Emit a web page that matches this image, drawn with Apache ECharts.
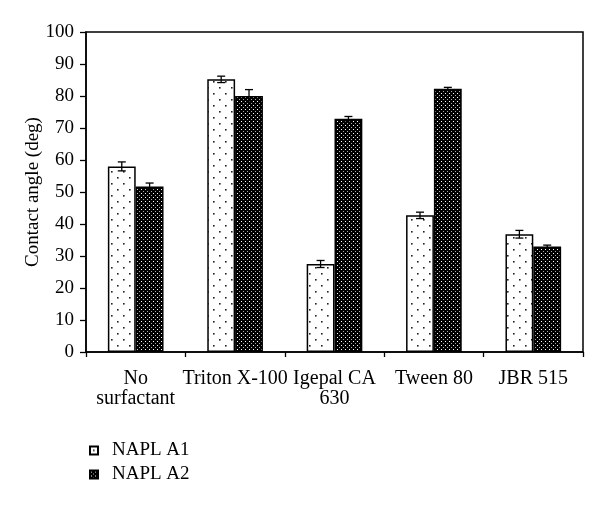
<!DOCTYPE html>
<html>
<head>
<meta charset="utf-8">
<script src="https://cdn.jsdelivr.net/npm/echarts@6/dist/echarts.min.js"></script>
<style>html,body{margin:0;padding:0;background:#fff;}#c{width:600px;height:505px;}</style>
</head>
<body>
<div id="c"></div>
<script>
var categories = ['No\nsurfactant', 'Triton X-100', 'Igepal CA\n630', 'Tween 80', 'JBR 515'];
var seriesNames = ['NAPL A1', 'NAPL A2'];
var valuesA1 = [58.0, 85.2, 27.5, 42.7, 36.8];
var valuesA2 = [51.7, 80.0, 72.9, 82.3, 33.0];
var errA1 = [1.4, 1.0, 1.1, 1.0, 1.2];
var errA2 = [1.1, 2.0, 0.7, 0.4, 0.4];
var yTicks = [0, 10, 20, 30, 40, 50, 60, 70, 80, 90, 100];

function makePattern(kind) {
  var c = document.createElement('canvas');
  var ctx = c.getContext('2d');
  if (kind === 1) {
    c.width = 12; c.height = 12;
    ctx.fillStyle = '#fff'; ctx.fillRect(0, 0, 12, 12);
    ctx.fillStyle = '#222';
    ctx.fillRect(3, 3, 1.6, 1.6);
    ctx.fillRect(9, 9, 1.6, 1.6);
  } else {
    c.width = 4; c.height = 4;
    ctx.fillStyle = '#000'; ctx.fillRect(0, 0, 4, 4);
    ctx.fillStyle = '#fff'; ctx.fillRect(1, 1, 1, 1);
    ctx.fillStyle = '#aaa'; ctx.fillRect(3, 3, 1, 1);
  }
  return c;
}
var pat1 = {image: makePattern(1), repeat: 'repeat'};
var pat2 = {image: makePattern(2), repeat: 'repeat'};

var BAR_FRAC = 0.28;
function errData(vals, errs) {
  return vals.map(function (v, i) { return [i, v - errs[i], v + errs[i]]; });
}
function errRender(side) {
  return function (params, api) {
    var i = api.value(0);
    var lo = api.coord([i, api.value(1)]);
    var hi = api.coord([i, api.value(2)]);
    var band = api.size([1, 0])[0];
    var x = lo[0] + side * band * BAR_FRAC / 2;
    var cap = 4;
    var st = {stroke: '#000', lineWidth: 1.3};
    return {
      type: 'group',
      children: [
        {type: 'line', shape: {x1: x, y1: lo[1], x2: x, y2: hi[1]}, style: st},
        {type: 'line', shape: {x1: x - cap, y1: lo[1], x2: x + cap, y2: lo[1]}, style: st},
        {type: 'line', shape: {x1: x - cap, y1: hi[1], x2: x + cap, y2: hi[1]}, style: st}
      ]
    };
  };
}

var font = '"Liberation Serif", "DejaVu Serif", serif';
var chart = echarts.init(document.getElementById('c'), null, {renderer: 'canvas'});
chart.setOption({
  animation: false,
  textStyle: {fontFamily: font},
  grid: {left: 86, right: 17, top: 32, bottom: 153, show: true, borderColor: '#000', borderWidth: 1.5, backgroundColor: 'transparent'},
  legend: {
    data: seriesNames,
    orient: 'vertical',
    left: 84, top: 436,
    icon: 'rect', itemWidth: 8, itemHeight: 8, itemGap: 5,
    textStyle: {fontFamily: font, fontSize: 19, color: '#000', padding: [0, 0, 0, 9]}
  },
  xAxis: {
    type: 'category',
    data: categories,
    axisLine: {lineStyle: {color: '#000', width: 1.5}},
    axisTick: {show: true, length: 5, lineStyle: {color: '#000', width: 1.3}},
    axisLabel: {interval: 0, margin: 17, color: '#000', fontFamily: font, fontSize: 20, lineHeight: 20, overflow: 'none'},
    splitLine: {show: false}
  },
  yAxis: {
    type: 'value', min: yTicks[0], max: yTicks[yTicks.length - 1], interval: 10,
    name: 'Contact angle (deg)', nameLocation: 'middle', nameGap: 43, nameMoveOverlap: false,
    nameTextStyle: {fontFamily: font, fontSize: 19, color: '#000'},
    axisLine: {show: true, lineStyle: {color: '#000', width: 1.5}},
    axisTick: {show: true, length: 6, lineStyle: {color: '#000', width: 1.3}},
    axisLabel: {margin: 12, color: '#000', fontFamily: font, fontSize: 19},
    splitLine: {show: false}
  },
  series: [
    {name: seriesNames[0], type: 'bar', data: valuesA1, barWidth: (BAR_FRAC * 100) + '%', barGap: '0%',
     itemStyle: {color: pat1, borderColor: '#000', borderWidth: 1.5}},
    {name: seriesNames[1], type: 'bar', data: valuesA2, barWidth: (BAR_FRAC * 100) + '%', barGap: '0%',
     itemStyle: {color: pat2, borderColor: '#000', borderWidth: 1.5}},
    {type: 'custom', renderItem: errRender(-1), data: errData(valuesA1, errA1), z: 10, encode: {x: 0, y: [1, 2]}},
    {type: 'custom', renderItem: errRender(1), data: errData(valuesA2, errA2), z: 10, encode: {x: 0, y: [1, 2]}}
  ]
});
</script>
</body>
</html>
